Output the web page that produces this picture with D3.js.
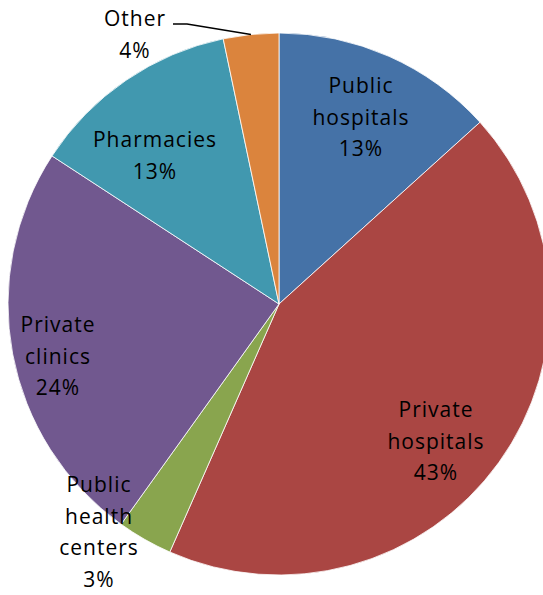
<!DOCTYPE html>
<html>
<head>
<meta charset="utf-8">
<script src="https://cdn.jsdelivr.net/npm/d3@7"></script>
<style>
  html, body { margin: 0; padding: 0; background: #fff; }
  svg { display: block; }
  text { font-family: "Open Sans", "DejaVu Sans", sans-serif; font-size: 21px; fill: #000; letter-spacing: 1px; }
</style>
</head>
<body>
<svg id="chart" width="543" height="595"></svg>
<script>
// ---- data ----
const categories = ["Public hospitals", "Private hospitals", "Public health centers", "Private clinics", "Pharmacies", "Other"];
const shares = [13.3, 43.3, 3.3, 24.3, 12.5, 3.3];
const percentLabels = ["13%", "43%", "3%", "24%", "13%", "4%"];
const labelLines = [["Public", "hospitals"], ["Private", "hospitals"], ["Public", "health", "centers"], ["Private", "clinics"], ["Pharmacies"], ["Other"]];
const colors = ["#4572A7", "#AA4643", "#89A54E", "#71588F", "#4198AF", "#DB843D"];

// ---- layout (annotation placement, relative to pie centre: first-line baseline) ----
const labelLayout = [
  { x: 82,  y: -211 },
  { x: 157, y: 113 },
  { x: -180, y: 188 },
  { x: -221, y: 28 },
  { x: -124, y: -157 },
  { x: -144, y: -278 }
];
const lineHeight = 31.5;

const svg = d3.select("#chart");
const cx = 279, cy = 304, R = 271;
const g = svg.append("g").attr("transform", `translate(${cx},${cy})`);

const data = categories.map((c, i) => ({ cat: c, value: shares[i], pct: percentLabels[i], lines: labelLines[i], color: colors[i], lay: labelLayout[i] }));

const pie = d3.pie().value(d => d.value).sort(null);
const arc = d3.arc().innerRadius(0).outerRadius(R);
const arcs = pie(data);

g.selectAll("path.slice")
  .data(arcs)
  .enter().append("path")
  .attr("class", "slice")
  .attr("d", arc)
  .attr("fill", d => d.data.color)
  .attr("stroke", "#fff")
  .attr("stroke-width", 0.8);

// leader line for "Other"
const other = arcs[5];
const midA = (other.startAngle + other.endAngle) / 2;
const edge = [Math.sin(midA) * R, -Math.cos(midA) * R];
g.append("path")
  .attr("d", d3.line()([[-106, -280], [-92, -280], edge]))
  .attr("fill", "none")
  .attr("stroke", "#000")
  .attr("stroke-width", 1.4);

// labels
arcs.forEach(a => {
  const d = a.data;
  const t = g.append("text").attr("text-anchor", "middle");
  const lines = d.lines.concat([d.pct]);
  lines.forEach((ln, k) => {
    t.append("tspan")
      .attr("x", d.lay.x)
      .attr("y", d.lay.y + k * lineHeight)
      .text(ln);
  });
});
</script>
</body>
</html>
